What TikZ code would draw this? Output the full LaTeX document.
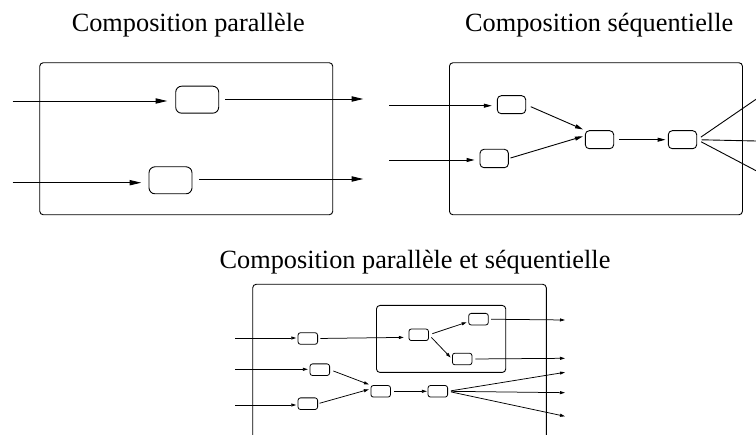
\documentclass[tikz,border=0pt]{standalone}
\usepackage{fontspec}
\setmainfont{Liberation Serif}
\usetikzlibrary{arrows.meta}
\begin{document}
\begin{tikzpicture}[x=1pt,y=-1pt,
  title/.style={anchor=base,inner sep=0pt,font=\fontsize{26.3}{30}\selectfont},
  frame/.style={draw,line width=0.9pt,rounded corners=3.5pt,inner sep=0pt,anchor=north west},
  bigbox/.style={draw,line width=0.9pt,rounded corners=6pt,inner sep=0pt,minimum width=43pt,minimum height=27pt},
  midbox/.style={draw,line width=0.9pt,rounded corners=4pt,inner sep=0pt,minimum width=28.4pt,minimum height=18pt},
  smallbox/.style={draw,line width=0.8pt,rounded corners=2.5pt,inner sep=0pt,minimum width=19.6pt,minimum height=11.6pt},
  arrbig/.style={line width=0.9pt,-{Triangle[length=11.7pt,width=5.3pt]}},
  arrmid/.style={line width=0.9pt,-{Triangle[length=8pt,width=4pt]}},
  arrsmall/.style={line width=0.75pt,-{Triangle[length=5pt,width=3pt]}},
  plain/.style={line width=0.9pt}]
\useasboundingbox (0,0) rectangle (756,435);

% ---------- titles ----------
\node[title] (t1) at (188.3,31.5) {Composition parallèle};
\node[title] (t2) at (599.2,31.5) {Composition séquentielle};
\node[title] (t3) at (415,268.5) {Composition parallèle et séquentielle};

% ---------- parallel composition ----------
\node[frame,minimum width=293pt,minimum height=152pt] (f1) at (39.3,62.3) {};
\node[bigbox] (pa) at (197.2,99.7) {};
\node[bigbox] (pb) at (170.5,180.3) {};
\coordinate (pain) at (12.7,101);
\coordinate (paout) at (363.3,99);
\coordinate (pbin) at (12.7,182.7);
\coordinate (pbout) at (363.3,179);
\draw[arrbig,shorten >=8pt] (pain) -- (pain -| pa.west);
\draw[arrbig,shorten <=6.3pt] (paout -| pa.east) -- (paout);
\draw[arrbig,shorten >=7.3pt] (pbin) -- (pbin -| pb.west);
\draw[arrbig,shorten <=6.3pt] (pbout -| pb.east) -- (pbout);

% ---------- sequential composition ----------
\node[frame,minimum width=293pt,minimum height=152pt] (f2) at (449,62.3) {};
\node[midbox] (sa) at (511.5,104.7) {};
\node[midbox,minimum height=18.4pt] (sb) at (494.2,158.5) {};
\node[midbox] (sc) at (599.5,139.7) {};
\node[midbox] (sd) at (682.5,139.7) {};
\coordinate (sain) at (389,105.7);
\coordinate (sbin) at (389,160);
\coordinate (so1) at (756,99.3);
\coordinate (so2) at (756,141);
\coordinate (so3) at (756,170.7);
\draw[arrmid,shorten >=5pt] (sain) -- (sain -| sa.west);
\draw[arrmid,shorten >=5pt] (sbin) -- (sbin -| sb.west);
\draw[arrmid,shorten <=5pt,shorten >=2pt] (sa.east) -- (sc.north west);
\draw[arrmid,shorten <=1.7pt,shorten >=2pt] (sb.east) -- (sc.165);
\draw[arrmid,shorten <=5.3pt,shorten >=2.3pt] (sc.east) -- (sd.west);
\draw[plain,shorten <=4.5pt] (sd.east) -- (so1);
\draw[plain,shorten <=4.5pt] (sd.east) -- (so2);
\draw[plain,shorten <=4.5pt] (sd.east) -- (so3);

% ---------- parallel and sequential composition ----------
\draw[line width=0.9pt,rounded corners=3.5pt]
  (252.7,435) -- (252.7,284.3) -- (546.3,284.3) -- (546.3,435);
\node[frame,minimum width=129.3pt,minimum height=67pt] (f3) at (376,305) {};
\node[smallbox] (m1) at (307.8,338.5) {};
\node[smallbox] (m2) at (418.7,334.8) {};
\node[smallbox] (m3) at (478.5,319.2) {};
\node[smallbox] (m4) at (462.2,359) {};
\node[smallbox] (m5) at (319.8,369.7) {};
\node[smallbox] (m6) at (307.8,403.7) {};
\node[smallbox] (m7) at (380.7,391.3) {};
\node[smallbox] (m8) at (437.8,391.3) {};
\coordinate (m1in) at (235,338);
\coordinate (m5in) at (235,369.3);
\coordinate (m6in) at (235,405);
\coordinate (m3out) at (565,320);
\coordinate (m4out) at (565,358.3);
\coordinate (m8o1) at (565,372.3);
\coordinate (m8o2) at (565,392.7);
\coordinate (m8o3) at (565,416.3);
\draw[arrsmall,shorten >=1.3pt] (m1in) -- (m1in -| m1.west);
\draw[arrsmall,shorten >=1.7pt] (m5in) -- (m5in -| m5.west);
\draw[arrsmall,shorten >=1.3pt] (m6in) -- (m6in -| m6.west);
\draw[arrsmall,shorten <=2.3pt,shorten >=4.7pt] (m1.east) -- (m2.194);
\draw[arrsmall,shorten <=3.6pt,shorten >=1.7pt] (m2.east) -- (m3.194);
\draw[arrsmall,shorten <=3.6pt,shorten >=2pt] (m2.east) -- (m4.west);
\draw[arrsmall,shorten <=2.4pt] (m3.east) -- (m3out);
\draw[arrsmall,shorten <=3pt] (m4.east) -- (m4out);
\draw[arrsmall,shorten <=3.6pt,shorten >=1.7pt] (m5.east) -- (m7.north west);
\draw[arrsmall,shorten <=1.6pt,shorten >=1.7pt] (m6.east) -- (m7.167);
\draw[arrsmall,shorten <=3.3pt,shorten >=0.7pt] (m7.east) -- (m8.west);
\draw[arrsmall,shorten <=3pt] (m8.east) -- (m8o1);
\draw[arrsmall,shorten <=3pt] (m8.east) -- (m8o2);
\draw[arrsmall,shorten <=3pt] (m8.east) -- (m8o3);
\end{tikzpicture}
\end{document}
